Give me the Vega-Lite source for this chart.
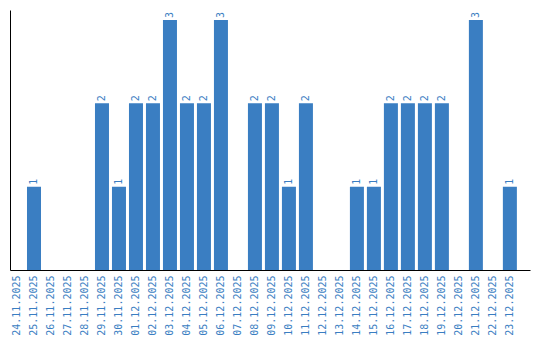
{
  "$schema": "https://vega.github.io/schema/vega-lite/v6.json",
  "autosize": {"type": "none"},
  "width": 520,
  "height": 260,
  "padding": {"left": 10, "top": 10, "right": 10, "bottom": 70},
  "background": "white",
  "config": {"view": {"stroke": null}, "font": "DejaVu Sans Mono"},
  "data": {"values": [
    {"date": "24.11.2025", "n": 0},
    {"date": "25.11.2025", "n": 1},
    {"date": "26.11.2025", "n": 0},
    {"date": "27.11.2025", "n": 0},
    {"date": "28.11.2025", "n": 0},
    {"date": "29.11.2025", "n": 2},
    {"date": "30.11.2025", "n": 1},
    {"date": "01.12.2025", "n": 2},
    {"date": "02.12.2025", "n": 2},
    {"date": "03.12.2025", "n": 3},
    {"date": "04.12.2025", "n": 2},
    {"date": "05.12.2025", "n": 2},
    {"date": "06.12.2025", "n": 3},
    {"date": "07.12.2025", "n": 0},
    {"date": "08.12.2025", "n": 2},
    {"date": "09.12.2025", "n": 2},
    {"date": "10.12.2025", "n": 1},
    {"date": "11.12.2025", "n": 2},
    {"date": "12.12.2025", "n": 0},
    {"date": "13.12.2025", "n": 0},
    {"date": "14.12.2025", "n": 1},
    {"date": "15.12.2025", "n": 1},
    {"date": "16.12.2025", "n": 2},
    {"date": "17.12.2025", "n": 2},
    {"date": "18.12.2025", "n": 2},
    {"date": "19.12.2025", "n": 2},
    {"date": "20.12.2025", "n": 0},
    {"date": "21.12.2025", "n": 3},
    {"date": "22.12.2025", "n": 0},
    {"date": "23.12.2025", "n": 1}
  ]},
  "encoding": {
    "x": {
      "field": "date", "type": "ordinal", "sort": null,
      "scale": {"paddingInner": 0.176, "paddingOuter": 0.386, "align": 0},
      "axis": {
        "title": null, "labelAngle": -90, "labelAlign": "right", "labelBaseline": "middle",
        "labelColor": "#3a7ec2", "labelFont": "DejaVu Sans Mono", "labelFontSize": 10,
        "labelPadding": 5, "ticks": false, "domainColor": "black", "domainWidth": 1
      }
    },
    "y": {
      "field": "n", "type": "quantitative",
      "scale": {"domain": [0, 3.12], "nice": false},
      "axis": {"title": null, "labels": false, "ticks": false, "grid": false, "domainColor": "black", "domainWidth": 1}
    }
  },
  "layer": [
    {"mark": {"type": "bar", "color": "#3a7ec2"}},
    {
      "transform": [{"filter": "datum.n > 0"}],
      "mark": {"type": "text", "angle": -90, "align": "left", "baseline": "middle", "dx": 2, "color": "#3a7ec2", "font": "DejaVu Sans Mono", "fontSize": 10},
      "encoding": {"text": {"field": "n", "type": "quantitative"}}
    }
  ]
}
